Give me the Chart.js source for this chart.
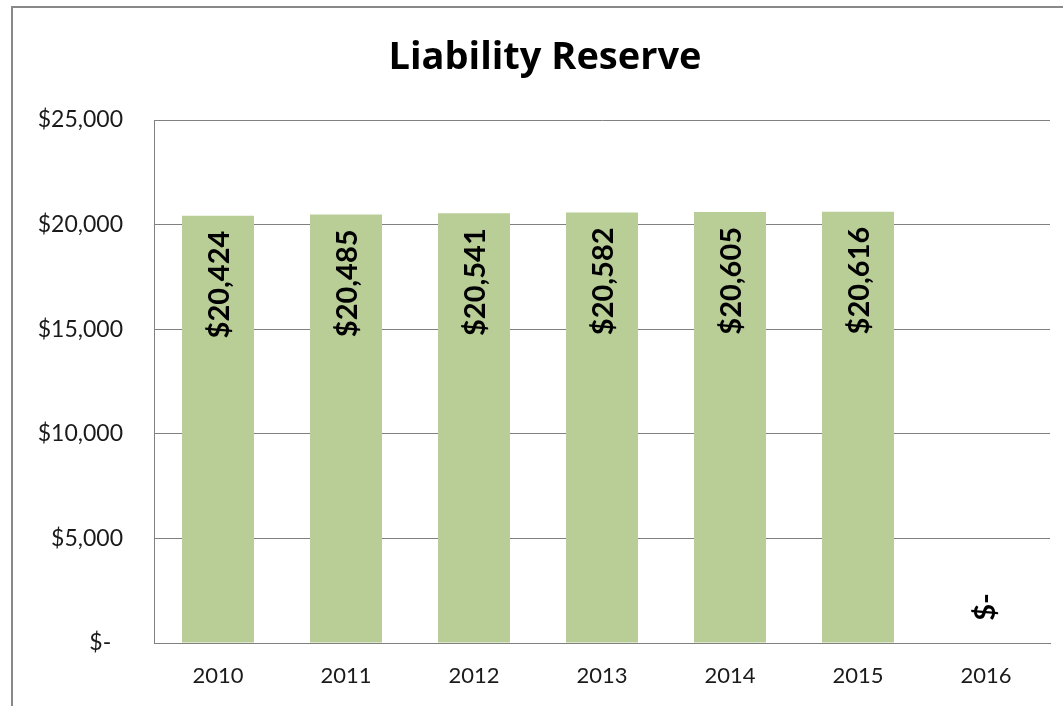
<!DOCTYPE html>
<html>
<head>
<meta charset="utf-8">
<script src="https://cdn.jsdelivr.net/npm/chart.js@4/dist/chart.umd.min.js"></script>
<style>
  html, body { margin: 0; padding: 0; background: #fff; overflow: hidden; width: 1063px; height: 706px; }
  #frame { position: absolute; left: 11px; top: 6px; width: 2000px; height: 2000px; border: 2px solid #898989; box-sizing: border-box; }
  #c { position: absolute; left: 0; top: 0; }
</style>
</head>
<body>
<div id="frame"></div>
<canvas id="c" width="1063" height="706"></canvas>
<script>
const chartTitle = 'Liability Reserve';
const categories = ['2010', '2011', '2012', '2013', '2014', '2015', '2016'];
const reserveValues = [20424, 20485, 20541, 20582, 20605, 20616, 0];
const yTicks = [0, 5000, 10000, 15000, 20000, 25000];

const FONT = 'Lato, "Open Sans", sans-serif';
const TITLE_FONT = '"Open Sans", Lato, sans-serif';

function money(v) {
  return v === 0 ? '$-' : '$' + v.toLocaleString('en-US');
}

const titlePlugin = {
  id: 'customTitle',
  afterDraw(chart) {
    const ctx = chart.ctx;
    ctx.save();
    ctx.font = 'bold 38px ' + TITLE_FONT;
    ctx.fillStyle = '#000';
    ctx.textAlign = 'center';
    ctx.textBaseline = 'middle';
    ctx.fillText(chartTitle, 545, 58);
    ctx.restore();
  }
};

const labelPlugin = {
  id: 'barLabels',
  afterDatasetsDraw(chart) {
    const ctx = chart.ctx;
    const meta = chart.getDatasetMeta(0);
    const data = chart.data.datasets[0].data;
    ctx.save();
    ctx.font = 'bold 29px ' + FONT;
    ctx.fillStyle = '#000';
    ctx.textBaseline = 'middle';
    meta.data.forEach((bar, i) => {
      const v = data[i];
      const text = money(v);
      ctx.save();
      if (v === 0) {
        ctx.translate(bar.x - 2, bar.y - 36);
        ctx.rotate(-Math.PI / 2);
        ctx.textAlign = 'center';
      } else {
        ctx.translate(bar.x, bar.y + 15);
        ctx.rotate(-Math.PI / 2);
        ctx.textAlign = 'right';
      }
      ctx.fillText(text, 0, 2);
      ctx.restore();
    });
    ctx.restore();
  }
};

new Chart(document.getElementById('c'), {
  type: 'bar',
  data: {
    labels: categories,
    datasets: [{
      data: reserveValues,
      backgroundColor: '#B9CD96',
      borderWidth: 0,
      categoryPercentage: 1.0,
      barPercentage: 0.5625
    }]
  },
  options: {
    responsive: false,
    animation: false,
    devicePixelRatio: 1,
    layout: { padding: { left: 0, right: 13, top: 120, bottom: 0 } },
    plugins: {
      legend: { display: false },
      title: { display: false },
      tooltip: { enabled: false }
    },
    scales: {
      x: {
        grid: { display: false, drawTicks: false },
        border: { display: true, color: '#808080', width: 1 },
        ticks: {
          font: { family: FONT, size: 22 },
          color: '#1a1a1a',
          padding: 20,
          maxRotation: 0
        },
        afterFit(scale) { scale.height = 63; }
      },
      y: {
        min: 0,
        max: 25000,
        afterBuildTicks(scale) { scale.ticks = yTicks.map(v => ({ value: v })); },
        grid: { color: '#808080', lineWidth: 1, drawTicks: false },
        border: { display: true, color: '#808080', width: 1 },
        ticks: {
          font: { family: FONT, size: 23 },
          color: '#1a1a1a',
          padding: 31,
          callback: (v) => v === 0 ? '$-  ' : money(v)
        },
        afterFit(scale) { scale.width = 154; }
      }
    }
  },
  plugins: [titlePlugin, labelPlugin]
});
</script>
</body>
</html>
